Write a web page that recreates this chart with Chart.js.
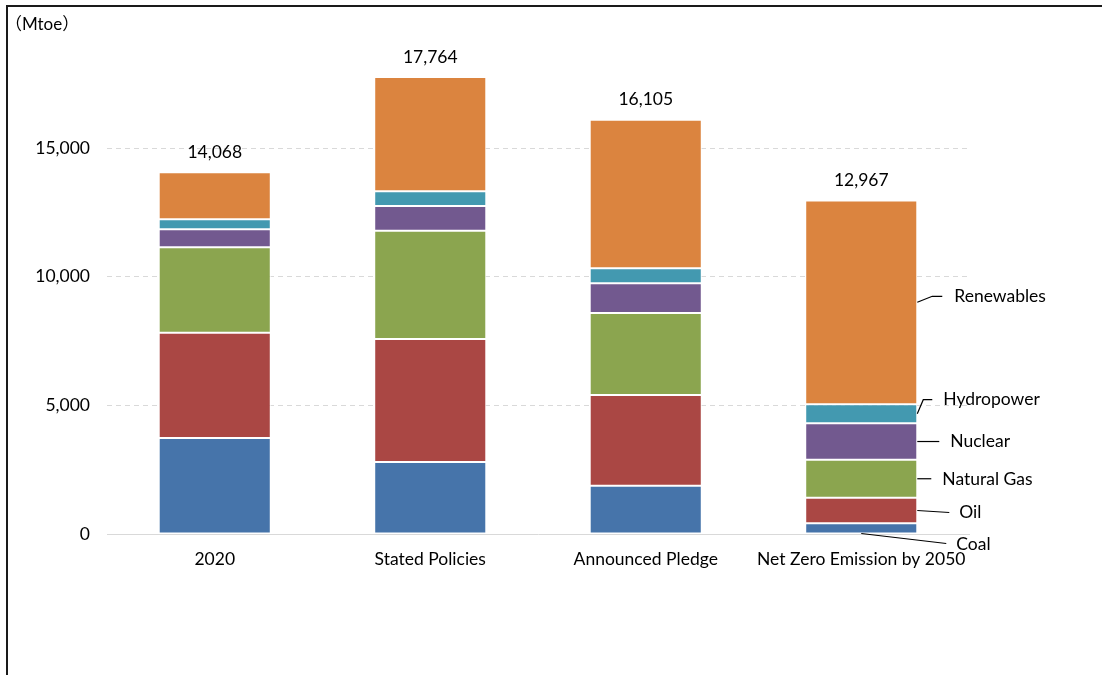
<!DOCTYPE html>
<html>
<head>
<meta charset="utf-8">
<script src="https://cdn.jsdelivr.net/npm/chart.js@4"></script>
<style>
  html, body { margin: 0; padding: 0; background: #fff; overflow: hidden; }
  #wrap { position: relative; width: 1102px; height: 675px; }
  #frame { position: absolute; left: 6px; top: 5px; right: -10px; bottom: -10px;
           border-top: 2px solid #1a1a1a; border-left: 2px solid #1a1a1a; pointer-events: none; }
  canvas { position: absolute; left: 0; top: 0; }
</style>
</head>
<body>
<div id="wrap">
  <canvas id="energyChart" width="1102" height="675"></canvas>
  <div id="frame"></div>
</div>
<script>
// scenarios and values (Mtoe)
const scenarios = ['2020', 'Stated Policies', 'Announced Pledge', 'Net Zero Emission by 2050'];
const coal = [3733, 2801, 1872, 415];
const oil = [4095, 4779, 3535, 999];
const naturalGas = [3318, 4208, 3184, 1468];
const nuclear = [702, 961, 1157, 1427];
const hydropower = [390, 574, 585, 740];
const renewables = [1830, 4441, 5772, 7918];
const totals = [14068, 17764, 16105, 12967];
const yTicks = [0, 5000, 10000, 15000];

const FONT = 'Lato, "Open Sans", sans-serif';
const FSIZE = 17.5;

function series(label, data, color) {
    return {
        label: label,
        data: data,
        backgroundColor: color,
        borderColor: '#ffffff',
        borderWidth: 1,
        borderSkipped: false
    };
}

// leader lines for the labels right of the last bar: points relative to the segment anchor
const leaders = {
    'Renewables':  { pts: [[0, 0], [15, -6], [25, -6]], text: [37, -6] },
    'Hydropower':  { pts: [[0, 0], [6, -14], [15, -14]], text: [26, -14] },
    'Nuclear':     { pts: [[0, 0], [22, 0]], text: [33, 0] },
    'Natural Gas': { pts: [[0, 0], [14, 0]], text: [25, 1] },
    'Oil':         { pts: [[0, 0], [32, 2]], text: [42, 2] },
    'Coal':        { pts: [[0, 0], [85, 10]], text: [95, 11], fromCenterBase: true }
};

const labelPlugin = {
    id: 'labels',
    afterDatasetsDraw(chart) {
        const ctx = chart.ctx;
        ctx.save();
        ctx.fillStyle = '#000';
        ctx.font = FSIZE + 'px ' + FONT;
        ctx.textBaseline = 'middle';

        // totals above bars
        const topMeta = chart.getDatasetMeta(chart.data.datasets.length - 1);
        ctx.textAlign = 'center';
        topMeta.data.forEach((bar, i) => {
            const total = totals[i];
            const y = chart.scales.y.getPixelForValue(total);
            ctx.fillText(total.toLocaleString('en-US'), bar.x, y - 20);
        });

        // series names next to the last bar
        const last = scenarios.length - 1;
        ctx.textAlign = 'left';
        ctx.strokeStyle = '#000';
        ctx.lineWidth = 1.2;
        chart.data.datasets.forEach((ds, di) => {
            const el = chart.getDatasetMeta(di).data[last];
            const spec = leaders[ds.label];
            let ax = el.x + el.width / 2;
            let ay = (el.y + el.base) / 2;
            if (spec.fromCenterBase) { ax = el.x; ay = el.base; }
            ctx.beginPath();
            spec.pts.forEach((p, k) => {
                if (k === 0) ctx.moveTo(ax + p[0], ay + p[1]);
                else ctx.lineTo(ax + p[0], ay + p[1]);
            });
            ctx.stroke();
            ctx.fillText(ds.label, ax + spec.text[0], ay + spec.text[1]);
        });

        // unit
        ctx.font = '17px Lato, "Noto Sans CJK JP", sans-serif';
        ctx.fillText('（Mtoe）', 5, 25);
        ctx.restore();
    }
};

const ctx = document.getElementById('energyChart').getContext('2d');
const energyChart = new Chart(ctx, {
    type: 'bar',
    data: {
        labels: scenarios,
        datasets: [
            series('Coal', coal, '#4674aa'),
            series('Oil', oil, '#aa4744'),
            series('Natural Gas', naturalGas, '#8ba54f'),
            series('Nuclear', nuclear, '#72598f'),
            series('Hydropower', hydropower, '#4399b0'),
            series('Renewables', renewables, '#db843f')
        ]
    },
    options: {
        responsive: false,
        animation: false,
        layout: { padding: { left: 0, right: 133, top: 71, bottom: 101 } },
        plugins: { legend: { display: false }, tooltip: { enabled: false } },
        datasets: { bar: { categoryPercentage: 1, barPercentage: 0.52 } },
        scales: {
            x: {
                stacked: true,
                grid: { display: false },
                border: { display: true, color: '#d9d9d9', width: 1 },
                ticks: { color: '#000', font: { family: FONT, size: FSIZE }, padding: 7, maxRotation: 0 },
                afterFit(scale) { scale.height = 40; }
            },
            y: {
                stacked: true,
                min: 0,
                max: 18000,
                afterBuildTicks(scale) { scale.ticks = yTicks.map(v => ({ value: v })); },
                grid: {
                    drawTicks: false,
                    color: c => c.tick && c.tick.value === 0 ? 'rgba(0,0,0,0)' : '#d9d9d9',
                    lineWidth: 1
                },
                border: { display: false, dash: [5, 4] },
                ticks: {
                    color: '#000',
                    font: { family: FONT, size: FSIZE },
                    padding: 17,
                    callback: v => v.toLocaleString('en-US')
                },
                afterFit(scale) { scale.width = 107; }
            }
        }
    },
    plugins: [labelPlugin]
});
</script>
</body>
</html>
